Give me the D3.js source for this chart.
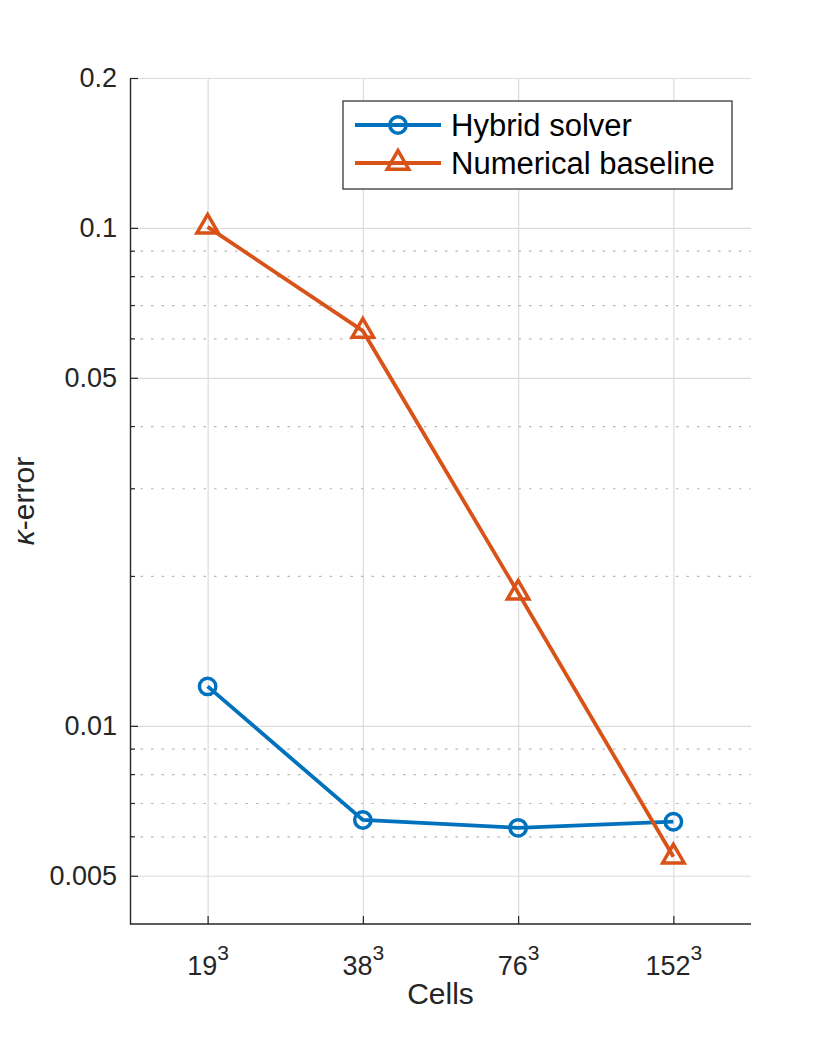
<!DOCTYPE html>
<html>
<head>
<meta charset="utf-8">
<script src="https://cdn.jsdelivr.net/npm/d3@7"></script>
<style>
  body { margin: 0; background: #fff; }
  svg { display: block; font-family: "Liberation Sans", Arial, sans-serif; }
</style>
</head>
<body>
<div id="chart"></div>
<script>
// data
var cells = ["19", "38", "76", "152"];
var cellExponent = "3";
var hybrid = [0.0120, 0.00647, 0.00624, 0.00642];
var numerical = [0.1005, 0.0621, 0.0185, 0.00546];
var seriesNames = ["Hybrid solver", "Numerical baseline"];
var majorTicks = [0.005, 0.01, 0.05, 0.1, 0.2];
var minorTicks = [0.006, 0.007, 0.008, 0.009, 0.02, 0.03, 0.04, 0.06, 0.07, 0.08, 0.09];
var yDomain = [0.004, 0.2];

function init()
{
  var width = 830, height = 1038;
  var left = 130, right = 751, top = 78, bottom = 924;
  var ink = "#262626";
  var blue = "#0072bd", orange = "#d95319";
  var lineW = 3.8, markW = 3.5;

  var svg = d3.select("#chart")
    .append("svg")
    .attr("width", width)
    .attr("height", height);

  var xScale = d3.scalePoint()
    .domain(cells)
    .range([left, right])
    .padding(0.5);

  var yScale = d3.scaleLog()
    .domain(yDomain)
    .range([bottom, top]);

  // grid
  var grid = svg.append("g");

  grid.append("g")
    .attr("transform", "translate(0," + bottom + ")")
    .call(d3.axisBottom(xScale).tickSize(-(bottom - top)).tickFormat(""))
    .call(function(g) { g.select(".domain").remove(); })
    .selectAll("line")
      .attr("stroke", "#dcdcdc")
      .attr("stroke-width", 1.2);

  grid.append("g")
    .attr("transform", "translate(" + left + ",0)")
    .call(d3.axisLeft(yScale).tickValues(majorTicks).tickSize(-(right - left)).tickFormat(""))
    .call(function(g) { g.select(".domain").remove(); })
    .selectAll("line")
      .attr("stroke", "#dcdcdc")
      .attr("stroke-width", 1.2);

  grid.append("g")
    .attr("transform", "translate(" + left + ",0)")
    .call(d3.axisLeft(yScale).tickValues(minorTicks).tickSize(-(right - left)).tickFormat(""))
    .call(function(g) { g.select(".domain").remove(); })
    .selectAll("line")
      .attr("stroke", "#b8b8b8")
      .attr("stroke-width", 1.2)
      .attr("stroke-dasharray", "2.5,8");

  // axes (ticks point inward)
  var yAxis = svg.append("g")
    .attr("transform", "translate(" + left + ",0)")
    .call(d3.axisLeft(yScale)
      .tickValues(majorTicks)
      .tickSize(-8)
      .tickSizeOuter(0)
      .tickPadding(13)
      .tickFormat(d3.format("")));

  var yMinor = svg.append("g")
    .attr("transform", "translate(" + left + ",0)")
    .call(d3.axisLeft(yScale).tickValues(minorTicks).tickSize(-5).tickFormat(""));
  yMinor.select(".domain").remove();

  var xAxis = svg.append("g")
    .attr("transform", "translate(0," + bottom + ")")
    .call(d3.axisBottom(xScale).tickSize(-8).tickSizeOuter(0));

  xAxis.select(".domain").attr("d", "M" + left + ",0H" + right);

  xAxis.selectAll(".tick text")
    .attr("y", 51)
    .attr("dy", null)
    .text(null)
    .each(function(d) {
      var t = d3.select(this);
      t.append("tspan").text(d);
      t.append("tspan")
        .attr("dy", -15)
        .style("font-size", "21px")
        .text(cellExponent);
    });

  [yAxis, yMinor, xAxis].forEach(function(a) {
    a.select(".domain").attr("stroke", ink).attr("stroke-width", 1.4);
    a.selectAll(".tick line").attr("stroke", ink).attr("stroke-width", 1.2);
    a.selectAll(".tick text")
      .attr("fill", ink)
      .style("font-size", "27px")
      .style("font-family", "'Liberation Sans', Arial, sans-serif");
  });

  // axis labels
  svg.append("text")
    .attr("x", (left + right) / 2)
    .attr("y", 1004)
    .attr("text-anchor", "middle")
    .attr("fill", ink)
    .style("font-size", "30px")
    .text("Cells");

  var ylab = svg.append("text")
    .attr("transform", "translate(34," + ((top + bottom) / 2) + ") rotate(-90)")
    .attr("text-anchor", "middle")
    .attr("fill", ink)
    .style("font-size", "30px");
  ylab.append("tspan").style("font-style", "italic").text("\u03ba");
  ylab.append("tspan").text("-error");

  // series
  var line = d3.line()
    .x(function(d, i) { return xScale(cells[i]); })
    .y(function(d) { return yScale(d); });

  svg.append("path")
    .datum(hybrid)
    .attr("d", line)
    .attr("fill", "none")
    .attr("stroke", blue)
    .attr("stroke-width", lineW);

  svg.append("path")
    .datum(numerical)
    .attr("d", line)
    .attr("fill", "none")
    .attr("stroke", orange)
    .attr("stroke-width", lineW);

  svg.selectAll(".hyb")
    .data(hybrid)
    .enter()
    .append("circle")
      .attr("cx", function(d, i) { return xScale(cells[i]); })
      .attr("cy", function(d) { return yScale(d); })
      .attr("r", 8.2)
      .attr("fill", "none")
      .attr("stroke", blue)
      .attr("stroke-width", markW);

  var tri = d3.symbol().type(d3.symbolTriangle).size(200);

  svg.selectAll(".num")
    .data(numerical)
    .enter()
    .append("path")
      .attr("d", tri)
      .attr("transform", function(d, i) { return "translate(" + xScale(cells[i]) + "," + yScale(d) + ")"; })
      .attr("fill", "none")
      .attr("stroke", orange)
      .attr("stroke-width", markW);

  // legend
  var legend = svg.append("g");

  legend.append("rect")
    .attr("x", 343)
    .attr("y", 101)
    .attr("width", 389)
    .attr("height", 88)
    .attr("fill", "white")
    .attr("stroke", ink)
    .attr("stroke-width", 1.2);

  var rows = [
    {name: seriesNames[0], color: blue, y: 125, marker: "circle"},
    {name: seriesNames[1], color: orange, y: 163, marker: "tri"}
  ];

  rows.forEach(function(r) {
    legend.append("line")
      .attr("x1", 355).attr("x2", 441)
      .attr("y1", r.y).attr("y2", r.y)
      .attr("stroke", r.color)
      .attr("stroke-width", lineW);
    if (r.marker === "circle") {
      legend.append("circle")
        .attr("cx", 398).attr("cy", r.y).attr("r", 8.2)
        .attr("fill", "none").attr("stroke", r.color).attr("stroke-width", markW);
    } else {
      legend.append("path")
        .attr("d", tri)
        .attr("transform", "translate(398," + r.y + ")")
        .attr("fill", "none").attr("stroke", r.color).attr("stroke-width", markW);
    }
    legend.append("text")
      .attr("x", 451)
      .attr("y", r.y + 11)
      .attr("fill", "#000")
      .style("font-size", "31px")
      .text(r.name);
  });
}

window.onload = init;
</script>
</body>
</html>
